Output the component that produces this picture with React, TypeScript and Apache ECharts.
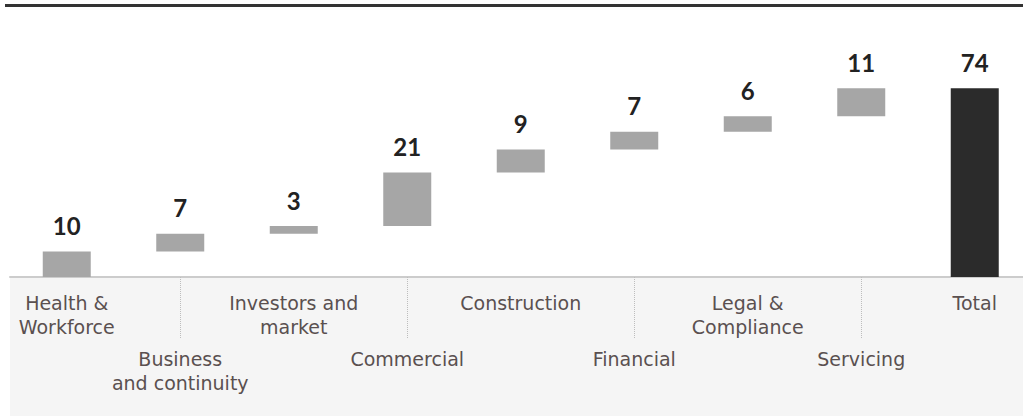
import React, { useEffect, useRef } from "react";
import * as echarts from "echarts";

const categories: string[] = [
  "Health &\nWorkforce",
  "Business\nand continuity",
  "Investors and\nmarket",
  "Commercial",
  "Construction",
  "Financial",
  "Legal &\nCompliance",
  "Servicing",
  "Total",
];
const values: number[] = [10, 7, 3, 21, 9, 7, 6, 11, 74];
const totalIndex = 8;

const GRAY = "#a6a6a6";
const DARK = "#2b2b2b";
const LABEL_COLOR = "#5a5050";

export default function App() {
  const ref = useRef<HTMLDivElement>(null);
  useEffect(() => {
    if (!ref.current) return;
    const chart = echarts.init(ref.current, undefined, { renderer: "svg" });

    const bases: number[] = [];
    let run = 0;
    values.forEach((v, i) => {
      if (i === totalIndex) {
        bases.push(0);
      } else {
        bases.push(run);
        run += v;
      }
    });

    chart.setOption({
      animation: false,
      graphic: [
        {
          type: "rect",
          z: -1,
          shape: { x: 10, y: 277, width: 1013, height: 139 },
          style: { fill: "#f5f5f5" },
        },
        {
          type: "rect",
          shape: { x: 5, y: 4, width: 1018, height: 3 },
          style: { fill: "#333333" },
        },
      ],
      grid: {
        left: 10,
        right: -8.5,
        top: 73,
        height: 204,
        containLabel: false,
        outerBoundsMode: "none",
      },
      xAxis: {
        type: "category",
        data: categories,
        axisLine: { show: true, lineStyle: { color: "#cccccc", width: 2 } },
        axisTick: {
          show: true,
          alignWithLabel: true,
          interval: (index: number) => index % 2 === 1,
          length: 61,
          lineStyle: { color: "#bdbdbd", type: "dotted", width: 1 },
        },
        axisLabel: {
          interval: 0,
          margin: 14,
          formatter: (value: string, index: number) => {
            const lines = value
              .split("\n")
              .map((l) => `{t|${l}}`)
              .join("\n");
            return index % 2 === 1 ? `{gap| }\n${lines}` : lines;
          },
          rich: {
            t: {
              fontFamily: "DejaVu Sans",
              fontSize: 19,
              lineHeight: 24,
              color: LABEL_COLOR,
              align: "center",
            },
            gap: { fontSize: 10, lineHeight: 56 },
          },
        },
      },
      yAxis: {
        type: "value",
        min: 0,
        max: 80,
        show: false,
        splitLine: { show: false },
      },
      series: [
        {
          type: "bar",
          stack: "w",
          silent: true,
          barWidth: 48,
          itemStyle: { color: "transparent" },
          data: bases,
        },
        {
          type: "bar",
          stack: "w",
          barWidth: 48,
          data: values.map((v, i) => ({
            value: v,
            itemStyle: { color: i === totalIndex ? DARK : GRAY },
          })),
          label: {
            show: true,
            position: "top",
            distance: 14,
            fontFamily: "Lato",
            fontWeight: "bold",
            fontSize: 24,
            color: "#222222",
          },
        },
      ],
    });
    return () => chart.dispose();
  }, []);
  return (
    <div
      ref={ref}
      style={{ position: "absolute", left: 0, top: 0, width: 1023, height: 416 }}
    />
  );
}
